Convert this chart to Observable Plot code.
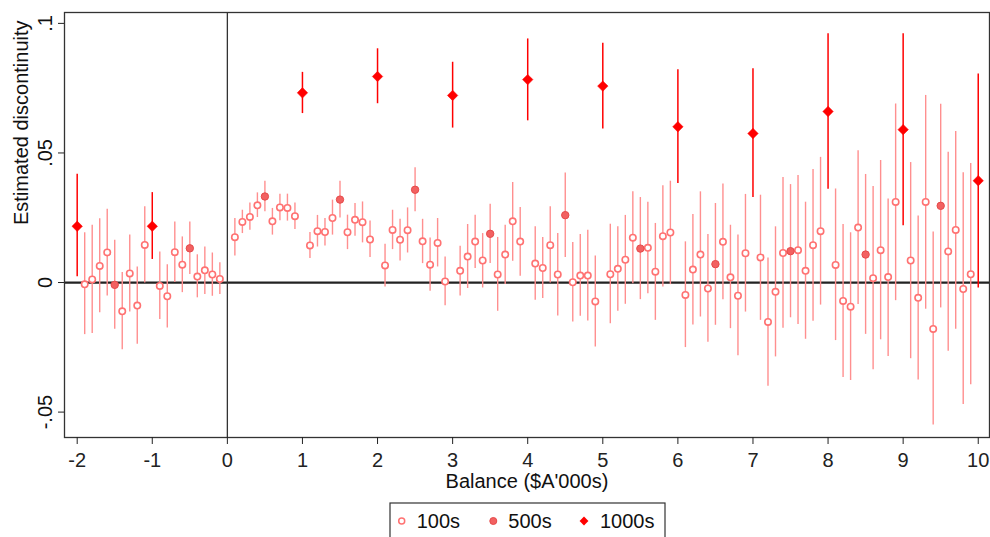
<!DOCTYPE html>
<html><head><meta charset="utf-8">
<script src="https://cdn.jsdelivr.net/npm/d3@7"></script>
<script src="https://cdn.jsdelivr.net/npm/@observablehq/plot@0.6"></script>
<style>
html,body{margin:0;padding:0;background:#fff;overflow:hidden;}
#wrap{position:relative;width:990px;height:537px;font-family:"Liberation Sans",Arial,Helvetica,sans-serif;}
#legend{position:absolute;left:389px;top:502px;}
</style>
</head><body>
<div id="wrap"><div id="chart"></div><svg id="legend" width="278" height="45"></svg></div>
<script>
// ---- data ----
const x100 = [-1.9,-1.8,-1.7,-1.6,-1.4,-1.3,-1.2,-1.1,-0.9,-0.8,-0.7,-0.6,-0.4,-0.3,-0.2,-0.1,
  0.1,0.2,0.3,0.4,0.6,0.7,0.8,0.9,1.1,1.2,1.3,1.4,1.6,1.7,1.8,1.9,2.1,2.2,2.3,2.4,2.6,2.7,2.8,2.9,
  3.1,3.2,3.3,3.4,3.6,3.7,3.8,3.9,4.1,4.2,4.3,4.4,4.6,4.7,4.8,4.9,5.1,5.2,5.3,5.4,5.6,5.7,5.8,5.9,
  6.1,6.2,6.3,6.4,6.6,6.7,6.8,6.9,7.1,7.2,7.3,7.4,7.6,7.7,7.8,7.9,8.1,8.2,8.3,8.4,8.6,8.7,8.8,8.9,
  9.1,9.2,9.3,9.4,9.6,9.7,9.8,9.9];
const est100 = [-0.0007,0.0012,0.0064,0.0116,-0.0111,0.0035,-0.0089,0.0145,-0.0013,-0.0053,0.0117,0.0069,0.0023,0.0047,0.0031,0.0014,
  0.0175,0.0234,0.0253,0.0298,0.0236,0.029,0.0288,0.0256,0.0143,0.0198,0.0195,0.0249,0.0194,0.0242,0.0233,0.0166,0.0066,0.0203,0.0165,0.0202,0.0159,0.0069,0.0153,0.0004,
  0.0045,0.01,0.0158,0.0085,0.0031,0.0108,0.0236,0.0158,0.0073,0.0056,0.0144,0.0031,0.0001,0.0027,0.0027,-0.0073,0.0032,0.0053,0.0088,0.0173,0.0134,0.0042,0.0179,0.0193,
  -0.0048,0.005,0.0108,-0.0023,0.0157,0.002,-0.0051,0.0113,0.0097,-0.0152,-0.0036,0.0114,0.0125,0.0045,0.0144,0.0198,0.0068,-0.0071,-0.0093,0.0212,0.0017,0.0125,0.0021,0.0311,
  0.0085,-0.0059,0.0311,-0.0179,0.012,0.0203,-0.0025,0.0032];
const lo100 = [-0.0201,-0.0197,-0.0117,-0.0052,-0.0259,-0.0114,-0.0238,-0.0002,-0.0143,-0.0175,0.0,-0.0039,-0.0059,-0.0046,-0.0053,-0.0046,
  0.0102,0.0189,0.0202,0.0251,0.0183,0.0238,0.0237,0.0205,0.0093,0.0137,0.0141,0.0183,0.0127,0.0179,0.0153,0.0097,-0.0017,0.0127,0.0083,0.0114,0.0073,-0.0034,0.006,-0.009,
  -0.0052,-0.0023,0.0054,-0.0021,-0.0111,-0.0008,0.0082,0.0024,-0.0068,-0.0062,-0.0002,-0.0129,-0.0152,-0.013,-0.0148,-0.0249,-0.0159,-0.0111,-0.0084,-0.0005,-0.0043,-0.0146,-0.0017,-0.0008,
  -0.0251,-0.0164,-0.0133,-0.023,-0.0066,-0.0178,-0.0283,-0.0114,-0.0146,-0.04,-0.0287,-0.0176,-0.0162,-0.0219,-0.0149,-0.0087,-0.0224,-0.0366,-0.0378,-0.0085,-0.0337,-0.0221,-0.0285,-0.007,
  -0.0294,-0.0376,-0.0103,-0.055,-0.0265,-0.018,-0.0471,-0.0394];
const hi100 = [0.0192,0.0221,0.0246,0.0283,0.0039,0.0183,0.006,0.0292,0.0118,0.0069,0.0234,0.0176,0.0107,0.0137,0.0114,0.0076,
  0.0247,0.0279,0.0307,0.0346,0.0286,0.0341,0.0341,0.0307,0.0193,0.0259,0.0247,0.0318,0.026,0.0305,0.0311,0.0237,0.0148,0.0279,0.0244,0.0288,0.0244,0.0172,0.0247,0.0099,
  0.014,0.0224,0.026,0.0189,0.0174,0.0221,0.0386,0.029,0.0215,0.0174,0.0292,0.0189,0.0154,0.0185,0.0202,0.0102,0.0225,0.0215,0.0259,0.035,0.031,0.0228,0.0373,0.0391,
  0.0157,0.0263,0.035,0.0185,0.038,0.0221,0.0183,0.034,0.0337,0.0095,0.0215,0.0405,0.0413,0.031,0.0436,0.0483,0.0361,0.0224,0.0192,0.0509,0.0371,0.0471,0.0322,0.0689,
  0.0463,0.0257,0.0722,0.0195,0.0503,0.0583,0.0424,0.0459];

const x500   = [-1.5,-0.5,0.5,1.5,2.5,3.5,4.5,5.5,6.5,7.5,8.5,9.5];
const est500 = [-0.0009,0.0132,0.0332,0.032,0.0358,0.0188,0.026,0.0131,0.0071,0.0121,0.0108,0.0296];
const lo500  = [-0.018,0.0031,0.0273,0.0249,0.0273,0.0073,0.0097,-0.0066,-0.0165,-0.0136,-0.02,-0.0098];
const hi500  = [0.0163,0.0234,0.0391,0.0391,0.0443,0.0302,0.0423,0.0328,0.0305,0.0378,0.0417,0.0688];

const x1000   = [-2,-1,1,2,3,4,5,6,7,8,9,10];
const est1000 = [0.0217,0.0217,0.0732,0.0795,0.0722,0.0783,0.0758,0.0601,0.0575,0.066,0.059,0.0393];
const lo1000  = [0.0022,0.0089,0.0652,0.069,0.0596,0.0624,0.0592,0.0382,0.0328,0.036,0.0219,-0.0021];
const hi1000  = [0.0418,0.0347,0.0811,0.0902,0.085,0.094,0.0923,0.0821,0.0825,0.096,0.096,0.0805];

const xTicks = [-2,-1,0,1,2,3,4,5,6,7,8,9,10];
const yTicks = [-0.05,0,0.05,0.1];
const yTickLabels = ["-.05","0",".05",".1"];
const xTitle = "Balance ($A'000s)";
const yTitle = "Estimated discontinuity";
const seriesNames = ["100s","500s","1000s"];

// ---- build tables ----
const rows = (xs, es, los, his) => xs.map((x, i) => ({x, est: es[i], lo: los[i], hi: his[i]}));
const d100 = rows(x100, est100, lo100, hi100);
const d500 = rows(x500, est500, lo500, hi500);
const d1000 = rows(x1000, est1000, lo1000, hi1000);
const yt = yTicks.map((v, i) => ({v, label: yTickLabels[i]}));

const C100 = "#ff7272", C100bar = "#ff8f8f", C500 = "#f26161", C500s = "#e64a4a", C1000 = "#ff0000";
const FONT = "Liberation Sans, Arial, Helvetica, sans-serif";

const plot = Plot.plot({
  width: 990, height: 537,
  marginTop: 12, marginRight: 1, marginBottom: 100, marginLeft: 64,
  x: {domain: [-2.169, 10.15], label: null},
  y: {domain: [-0.0598, 0.1042], label: null},
  style: {fontFamily: FONT, fontSize: "20px", background: "white", color: "#222"},
  marks: [
    Plot.ruleY([0], {stroke: "#222", strokeWidth: 2.2}),
    Plot.ruleX([0], {stroke: "#333", strokeWidth: 1.3}),
    Plot.ruleX(d100, {x: "x", y1: "lo", y2: "hi", stroke: C100bar, strokeWidth: 1.4}),
    Plot.ruleX(d500, {x: "x", y1: "lo", y2: "hi", stroke: C100bar, strokeWidth: 1.4}),
    Plot.dot(d100, {x: "x", y: "est", r: 3.2, stroke: C100, strokeWidth: 1.6, fill: "white"}),
    Plot.dot(d500, {x: "x", y: "est", r: 3.7, stroke: C500s, strokeWidth: 1, fill: C500}),
    Plot.ruleX(d1000, {x: "x", y1: "lo", y2: "hi", stroke: C1000, strokeWidth: 1.5}),
    Plot.dot(d1000, {x: "x", y: "est", symbol: "diamond2", r: 4.7, fill: C1000, stroke: C1000, strokeWidth: 0.5}),
    Plot.frame({stroke: "#333", strokeWidth: 1.3}),
    Plot.axisX({ticks: xTicks, tickSize: 7, tickPadding: 8, fontSize: 20, label: null, tickFormat: d => String(d)}),
    Plot.axisY({ticks: yTicks, tickSize: 6, tickFormat: () => "", label: null}),
    Plot.text(yt, {y: "v", text: "label", frameAnchor: "left", dx: -19, rotate: -90, fontSize: 20, textAnchor: "middle", lineAnchor: "middle", fill: "#111"}),
    Plot.text([xTitle], {text: d => d, frameAnchor: "bottom", dy: 44, fontSize: 20, lineAnchor: "middle", fill: "#111"}),
    Plot.text([yTitle], {text: d => d, frameAnchor: "left", dx: -43, rotate: -90, fontSize: 20, lineAnchor: "middle", fill: "#111"})
  ]
});
document.getElementById("chart").appendChild(plot);

// ---- legend ----
const lg = d3.select("#legend");
lg.append("rect").attr("x", 1).attr("y", 1).attr("width", 275).attr("height", 60)
  .attr("fill", "white").attr("stroke", "#333").attr("stroke-width", 1.2);
const cy = 19;
lg.append("circle").attr("cx", 12.7).attr("cy", cy).attr("r", 3).attr("fill", "white").attr("stroke", C100).attr("stroke-width", 1.5);
lg.append("circle").attr("cx", 104.3).attr("cy", cy).attr("r", 3.5).attr("fill", C500).attr("stroke", C500s).attr("stroke-width", 1);
lg.append("path").attr("d", d3.symbol(d3.symbolDiamond2, 50)()).attr("transform", `translate(195,${cy})`).attr("fill", C1000);
const lx = [27.7, 119.3, 211];
seriesNames.forEach((s, i) => {
  lg.append("text").attr("x", lx[i]).attr("y", cy).attr("dy", "0.35em")
    .attr("font-family", FONT).attr("font-size", 20).attr("fill", "#111").text(s);
});
</script>
</body></html>
